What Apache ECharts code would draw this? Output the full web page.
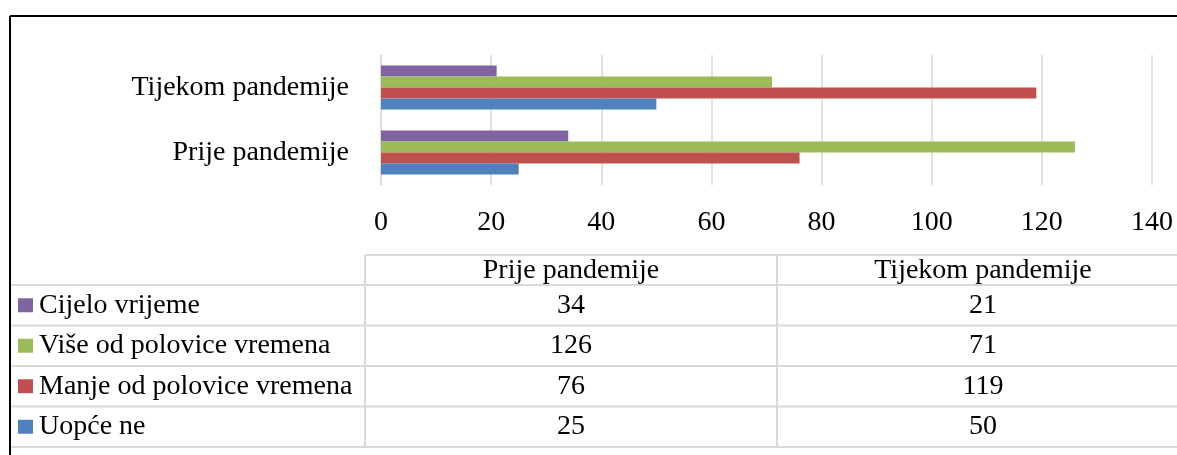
<!DOCTYPE html>
<html>
<head>
<meta charset="utf-8">
<script src="https://cdn.jsdelivr.net/npm/echarts@6/dist/echarts.min.js"></script>
<style>
  html, body { margin: 0; padding: 0; background: #fff; }
  #chart { width: 1177px; height: 455px; }
</style>
</head>
<body>
<div id="chart"></div>
<script>
// kategorije (odozdo prema gore na osi)
var categories = ['Prije pandemije', 'Tijekom pandemije'];
var xTicks = [0, 20, 40, 60, 80, 100, 120, 140];

// serije
var cijeloVrijeme = [34, 21];
var viseOdPolovice = [126, 71];
var manjeOdPolovice = [76, 119];
var uopceNe = [25, 50];

// redoslijed kao u tablici (i odozgo prema dolje unutar grupe)
var seriesNames = ['Cijelo vrijeme', 'Više od polovice vremena', 'Manje od polovice vremena', 'Uopće ne'];
var seriesColors = ['#8064A2', '#9BBB59', '#C0504D', '#4F81BD'];
var seriesData = [cijeloVrijeme, viseOdPolovice, manjeOdPolovice, uopceNe];

var FONT = '"Liberation Serif", "DejaVu Serif", serif';
var FS = 28;
var GRID_LINE = '#d9d9d9';

// tablica podataka ispod grafa
function buildTable() {
	var els = [];
	var col1 = 365, col2 = 777, right = 1177, left = 10;
	var top = 255, headH = 30, rowH = 40.5;
	var lineStyle = { stroke: GRID_LINE, lineWidth: 2 };

	// vodoravne linije
	els.push({ type: 'line', shape: { x1: col1, y1: top, x2: right, y2: top }, style: lineStyle });
	for (var r = 0; r <= seriesNames.length; r++) {
		var y = top + headH + r * rowH;
		els.push({ type: 'line', shape: { x1: left, y1: y, x2: right, y2: y }, style: lineStyle });
	}
	var bottom = top + headH + seriesNames.length * rowH;
	// okomite linije
	els.push({ type: 'line', shape: { x1: col1, y1: top, x2: col1, y2: bottom }, style: lineStyle });
	els.push({ type: 'line', shape: { x1: col2, y1: top, x2: col2, y2: bottom }, style: lineStyle });

	var centers = [(col1 + col2) / 2, col2 + (col2 - col1) / 2];
	// zaglavlje
	for (var c = 0; c < categories.length; c++) {
		els.push({ type: 'text', style: { text: categories[c], x: centers[c], y: top + headH / 2 + 1, textAlign: 'center', textVerticalAlign: 'middle', fontFamily: FONT, fontSize: FS, fill: '#000' } });
	}
	seriesNames.forEach(function (name, i) {
		var yc = top + headH + i * rowH + rowH / 2;
		els.push({ type: 'rect', shape: { x: 18, y: yc - 7, width: 15, height: 14 }, style: { fill: seriesColors[i] } });
		els.push({ type: 'text', style: { text: name, x: 39, y: yc, textAlign: 'left', textVerticalAlign: 'middle', fontFamily: FONT, fontSize: FS, fill: '#000' } });
		for (var c = 0; c < categories.length; c++) {
			els.push({ type: 'text', style: { text: String(seriesData[i][c]), x: centers[c], y: yc, textAlign: 'center', textVerticalAlign: 'middle', fontFamily: FONT, fontSize: FS, fill: '#000' } });
		}
	});

	// okvir (gornji i lijevi rub)
	els.push({ type: 'line', shape: { x1: 10, y1: 16, x2: right, y2: 16 }, style: { stroke: '#000', lineWidth: 2 } });
	els.push({ type: 'line', shape: { x1: 10, y1: 16, x2: 10, y2: 455 }, style: { stroke: '#000', lineWidth: 2 } });
	return els;
}

var chart = echarts.init(document.getElementById('chart'));
var option = {
	animation: false,
	backgroundColor: '#fff',
	grid: { left: 381, right: 25, top: 55, bottom: 270, containLabel: false },
	xAxis: {
		type: 'value',
		min: xTicks[0],
		max: xTicks[xTicks.length - 1],
		interval: xTicks[1] - xTicks[0],
		axisLine: { show: false },
		axisTick: { show: false },
		splitLine: { show: true, lineStyle: { color: GRID_LINE, width: 1.5 } },
		axisLabel: { margin: 24, color: '#000', fontFamily: FONT, fontSize: FS }
	},
	yAxis: {
		type: 'category',
		data: categories,
		axisLine: { show: true, lineStyle: { color: GRID_LINE, width: 1.5 } },
		axisTick: { show: false },
		axisLabel: { margin: 32, color: '#000', fontFamily: FONT, fontSize: FS }
	},
	series: seriesNames.map(function (name, i) {
		return {
			name: name,
			type: 'bar',
			data: seriesData[i],
			barWidth: 11,
			barGap: '0%',
			itemStyle: { color: seriesColors[i] }
		};
	}),
	graphic: buildTable()
};
chart.setOption(option);
</script>
</body>
</html>
